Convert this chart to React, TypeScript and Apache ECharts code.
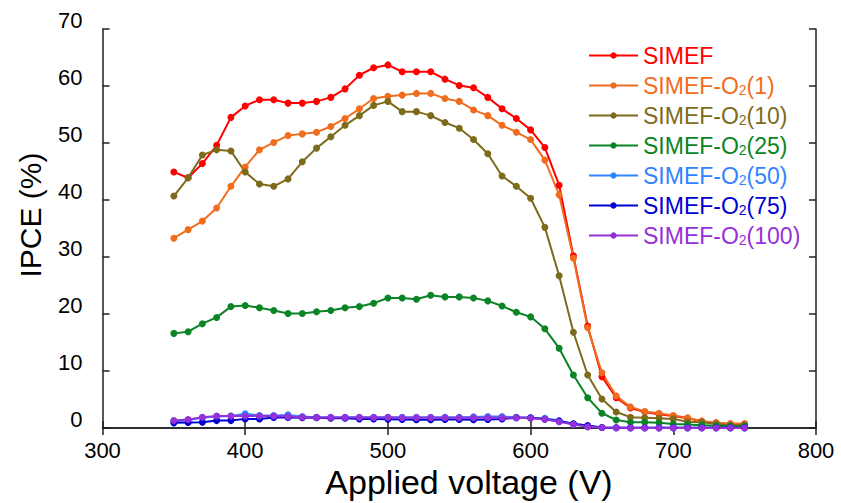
import React, { useEffect, useRef } from "react";
import * as echarts from "echarts";

const voltages = [350, 360, 370, 380, 390, 400, 410, 420, 430, 440, 450, 460, 470, 480, 490, 500, 510, 520, 530, 540, 550, 560, 570, 580, 590, 600, 610, 620, 630, 640, 650, 660, 670, 680, 690, 700, 710, 720, 730, 740, 750];

const simef = [44.9, 43.9, 46.4, 49.6, 54.5, 56.5, 57.6, 57.6, 57.0, 57.0, 57.3, 58.0, 59.5, 61.9, 63.2, 63.7, 62.5, 62.5, 62.5, 61.2, 60.1, 59.7, 58.0, 56.0, 54.3, 52.3, 49.2, 42.6, 30.2, 17.9, 9.0, 5.3, 3.5, 2.8, 2.4, 2.1, 1.7, 1.2, 0.9, 0.6, 0.6];
const o2_1 = [33.3, 34.8, 36.3, 38.6, 42.4, 45.8, 48.8, 50.1, 51.3, 51.6, 51.9, 52.9, 54.3, 56.0, 57.8, 58.2, 58.4, 58.7, 58.7, 57.8, 57.3, 55.8, 54.8, 53.1, 51.9, 50.6, 47.0, 40.9, 29.8, 17.6, 9.7, 5.6, 3.7, 2.9, 2.6, 2.2, 1.8, 1.2, 0.9, 0.8, 0.8];
const o2_10 = [40.7, 43.9, 47.9, 48.8, 48.6, 44.9, 42.8, 42.4, 43.7, 46.7, 49.1, 51.1, 53.1, 54.8, 56.6, 57.3, 55.5, 55.5, 54.8, 53.6, 52.6, 50.6, 48.1, 44.2, 42.4, 40.3, 35.2, 26.7, 16.8, 9.3, 5.1, 2.8, 1.9, 1.8, 1.7, 1.6, 1.1, 1.0, 0.7, 0.5, 0.5];
const o2_25 = [16.6, 16.9, 18.3, 19.4, 21.3, 21.5, 21.1, 20.6, 20.1, 20.1, 20.4, 20.6, 21.1, 21.3, 21.9, 22.8, 22.8, 22.6, 23.3, 23.0, 23.0, 22.8, 22.3, 21.4, 20.3, 19.5, 17.4, 14.0, 9.3, 5.3, 2.6, 1.4, 1.0, 1.0, 0.9, 0.7, 0.6, 0.5, 0.4, 0.3, 0.3];
const o2_50 = [1.2, 1.4, 1.8, 2.0, 2.1, 2.5, 2.2, 2.2, 2.3, 2.0, 1.9, 1.9, 1.9, 1.9, 1.9, 1.9, 1.9, 1.9, 1.9, 1.9, 1.9, 1.95, 2.0, 2.0, 1.9, 1.8, 1.7, 1.3, 0.7, 0.3, 0.1, 0.05, 0.05, 0.05, 0.05, 0.05, 0.05, 0.05, 0.05, 0.05, 0.05];
const o2_75 = [0.9, 0.95, 1.0, 1.3, 1.3, 1.6, 1.6, 1.85, 1.85, 1.8, 1.8, 1.7, 1.7, 1.6, 1.6, 1.55, 1.5, 1.45, 1.45, 1.5, 1.5, 1.45, 1.5, 1.6, 1.8, 1.8, 1.55, 1.2, 0.75, 0.45, 0.1, 0.05, 0.05, 0.05, 0.05, 0.05, 0.05, 0.05, 0.05, 0.05, 0.05];
const o2_100 = [1.3, 1.5, 1.9, 2.1, 2.1, 2.1, 2.1, 2.1, 2.0, 1.9, 1.85, 1.85, 1.85, 1.85, 1.85, 1.85, 1.8, 1.8, 1.8, 1.8, 1.8, 1.8, 1.8, 1.8, 1.8, 1.7, 1.55, 1.1, 0.6, 0.2, 0.1, 0.05, 0.0, 0.0, 0.0, 0.0, 0.0, 0.0, 0.0, 0.0, 0.0];

const seriesNames = ["SIMEF", "SIMEF-O2(1)", "SIMEF-O2(10)", "SIMEF-O2(25)", "SIMEF-O2(50)", "SIMEF-O2(75)", "SIMEF-O2(100)"];
const seriesData = [simef, o2_1, o2_10, o2_25, o2_50, o2_75, o2_100];
const seriesColors = ["#ff0000", "#f06d1e", "#7d6b1c", "#0a8424", "#3283ff", "#0000d2", "#9630d8"];

const xTicks = [300, 400, 500, 600, 700, 800];
const yTicks = [0, 10, 20, 30, 40, 50, 60, 70];
const xTitle = "Applied voltage (V)";
const yTitle = "IPCE (%)";

const FONT = "'Liberation Sans', Arial, Helvetica, sans-serif";

export default function App() {
  const ref = useRef<HTMLDivElement>(null);
  useEffect(() => {
    if (!ref.current) return;
    const chart = echarts.init(ref.current, null, { renderer: "svg" });
    const axisLine = { show: true, lineStyle: { color: "#222", width: 1.5 } };
    const tick = { show: true, inside: true, length: 7, lineStyle: { color: "#222", width: 1.5 } };
    const xMin = xTicks[0], xMax = xTicks[xTicks.length - 1], xInt = xTicks[1] - xTicks[0];
    const yMin = yTicks[0], yMax = yTicks[yTicks.length - 1], yInt = yTicks[1] - yTicks[0];
    const legendData = seriesNames.map((n, i) => ({
      name: n,
      textStyle: {
        color: seriesColors[i],
        rich: {
          b: { color: seriesColors[i], fontSize: 23, fontFamily: FONT },
          s: { color: seriesColors[i], fontSize: 14, fontFamily: FONT, padding: [9, 0, 0, 0] },
        },
      },
    }));
    chart.setOption({
      animation: false,
      backgroundColor: "#ffffff",
      textStyle: { fontFamily: FONT },
      grid: { left: 102.5, right: 25, top: 29, bottom: 75, containLabel: false },
      graphic: [
        {
          type: "text",
          x: 469,
          y: 482,
          style: { text: xTitle, fontSize: 34, fontFamily: FONT, fill: "#000", align: "center", verticalAlign: "middle" },
        },
        {
          type: "text",
          x: 30,
          y: 215,
          rotation: Math.PI / 2,
          style: { text: yTitle, fontSize: 30, fontFamily: FONT, fill: "#000", align: "center", verticalAlign: "middle" },
        },
      ],
      legend: {
        orient: "vertical",
        left: 583,
        top: 39,
        itemWidth: 49,
        itemHeight: 8,
        itemGap: 7,
        itemTextGap: 6,
        data: legendData,
        textStyle: { fontSize: 23, fontFamily: FONT },
        formatter: (name: string) => {
          const m = name.match(/^(SIMEF-O)2(.*)$/);
          if (m) return `{b|${m[1]}}{s|2}{b|${m[2]}}`;
          return `{b|${name}}`;
        },
      },
      xAxis: [
        {
          type: "value",
          min: xMin,
          max: xMax,
          interval: xInt,
          axisLine,
          axisTick: tick,
          axisLabel: { fontSize: 22, color: "#000", margin: 11, fontFamily: FONT, showMinLabel: true, showMaxLabel: true },
          splitLine: { show: false },
        },
        {
          type: "value",
          position: "top",
          min: xMin,
          max: xMax,
          interval: xInt,
          axisLine,
          axisTick: tick,
          axisLabel: { show: false },
          splitLine: { show: false },
        },
      ],
      yAxis: [
        {
          type: "value",
          min: yMin,
          max: yMax,
          interval: yInt,
          axisLine,
          axisTick: tick,
          axisLabel: { fontSize: 22, color: "#000", margin: 20, fontFamily: FONT, verticalAlign: "bottom", lineHeight: 18, showMinLabel: true, showMaxLabel: true },
          splitLine: { show: false },
        },
        {
          type: "value",
          position: "right",
          min: yMin,
          max: yMax,
          interval: yInt,
          axisLine,
          axisTick: tick,
          axisLabel: { show: false },
          splitLine: { show: false },
        },
      ],
      series: seriesNames.map((n, i) => ({
        name: n,
        type: "line",
        xAxisIndex: 0,
        yAxisIndex: 0,
        data: voltages.map((v, j) => [v, seriesData[i][j]]),
        symbol: "circle",
        symbolSize: 7,
        showSymbol: true,
        itemStyle: { color: seriesColors[i] },
        lineStyle: { color: seriesColors[i], width: 2 },
        emphasis: { disabled: true },
      })),
    });
    return () => chart.dispose();
  }, []);
  return <div ref={ref} style={{ position: "fixed", left: 0, top: 0, width: 841, height: 503 }} />;
}
